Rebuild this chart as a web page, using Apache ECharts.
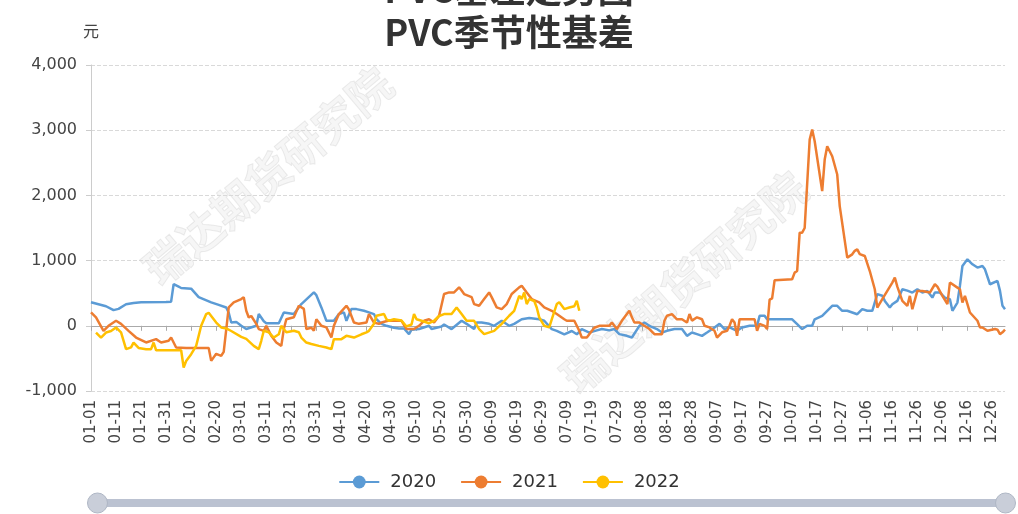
<!DOCTYPE html>
<html>
<head>
<meta charset="utf-8">
<script src="https://cdn.jsdelivr.net/npm/echarts@6/dist/echarts.min.js"></script>
<style>html,body{margin:0;padding:0;background:#fff}#c{width:1018px;height:514px}</style>
</head>
<body>
<div id="c"></div>
<script>
// Category labels: every day of a (leap) year, MM-DD
var categories = [];
(function(){
  var dim = [31,29,31,30,31,30,31,31,30,31,30,31];
  for (var m = 0; m < 12; m++) for (var d = 1; d <= dim[m]; d++)
    categories.push((m < 9 ? '0' : '') + (m + 1) + '-' + (d < 10 ? '0' : '') + d);
})();

var seriesNames = ['2020', '2021', '2022'];
var yTicks = { min: -1000, max: 4000, step: 1000 };

// [day index in year, basis value]
var s2020 = [[0,360],[3,330],[6,300],[9,240],[11,260],[14,330],[17,350],[20,360],[30,365],[32,370],[33,640],[35,600],[36,580],[40,570],[43,440],[48,360],[51,320],[54,280],[55,200],[56,50],[58,60],[60,0],[62,-50],
[66,0],[67,180],[69,70],[70,40],[75,40],[77,205],[81,180],[84,333],[89,512],[90,470],[92,282],[94,77],[97,77],[99,180],[101,205],[102,77],[104,256],[106,256],[109,230],[111,205],[113,180],[114,100],[116,30],[118,0],[121,-30],[123,-40],
[125,-40],[127,-128],[128,-60],[131,-50],[135,0],[136,-50],[140,-10],[141,20],[144,-50],[148,77],[150,30],[153,-50],[154,50],[156,50],[159,30],[161,0],[164,77],[167,0],[169,30],[172,100],[175,120],[179,100],[181,77],[184,-50],[186,-77],[189,-130],[192,-80],[194,-130],[196,-50],[199,-103],
[202,-70],[204,-50],[207,-70],[209,-50],[211,-128],[214,-154],[216,-180],[219,0],[221,50],[223,0],[226,-50],[228,-103],[230,-77],[233,-50],[236,-50],[238,-154],[240,-103],[242,-128],[244,-154],[246,-103],[249,-25],[251,30],[253,-50],[255,-25],[258,-77],[260,-25],[263,0],[266,0],[267,153],[269,153],[270,100],
[280,100],[282,25],[284,-50],[286,0],[288,0],[289,100],[292,153],[294,230],[296,306],[298,306],[300,230],[302,230],[304,204],[306,178],[308,255],[310,230],[312,230],[314,485],[316,460],[317,382],[319,280],[320,330],[322,382],[324,561],[326,540],[328,510],[330,561],[332,510],[334,535],[336,433],[337,510],[339,510],[341,433],[343,408],[344,230],[346,357],[347,612],[348,918],[350,1020],[352,943],[354,893],[356,918],[357,867],[359,637],[362,688],[363,535],[364,306],[365,255]];

var s2021 = [[0,205],[2,128],[5,-77],[7,0],[10,77],[12,30],[15,-77],[18,-180],[22,-256],[26,-205],[28,-256],[31,-230],[32,-180],[34,-333],[38,-340],[47,-340],[48,-538],[50,-430],[52,-460],[53,-400],[55,282],[57,360],[60,410],[61,440],
[62,230],[63,128],[64,150],[66,30],[67,-50],[69,-77],[70,0],[72,-154],[74,-257],[76,-308],[77,-50],[78,100],[81,130],[83,308],[85,260],[86,-50],[88,-30],[89,-77],[90,100],[92,0],[94,-25],[96,-180],[97,0],[99,180],[102,308],[103,250],[105,50],[107,30],[110,50],[111,180],[113,50],[115,30],[116,50],[119,80],[121,77],[124,77],
[126,-50],[129,-50],[131,0],[133,77],[135,100],[137,50],[139,154],[141,487],[143,512],[145,512],[147,590],[148,540],[149,487],[152,440],[153,333],[155,308],[157,410],[159,512],[160,440],[162,282],[164,256],[166,333],[168,487],[171,590],[172,615],[174,512],[176,410],[179,360],[181,282],[184,230],[186,180],[189,100],[190,77],[193,77],[194,0],[195,-77],[196,-180],[198,-180],
[199,-128],[201,-30],[203,0],[207,0],[208,50],[210,-50],[212,77],[214,180],[215,230],[216,130],[217,50],[219,50],[221,0],[223,-50],[225,-128],[228,-128],[229,77],[230,154],[232,180],[234,100],[236,100],[238,50],[239,180],[240,80],[242,130],[244,100],[245,0],[247,-25],[249,-77],[250,-180],[252,-100],[254,-77],[255,0],[256,100],[257,50],[258,-154],[259,100],[262,100],[265,100],[266,-77],[267,30],[269,0],[270,-50],
[271,400],[272,420],[273,700],[280,714],[281,816],[282,840],[283,1428],[284,1428],[285,1500],[287,2856],[288,3010],[289,2830],[292,2065],[293,2550],[294,2754],[296,2600],[298,2320],[299,1836],[302,1045],[304,1096],[305,1150],[306,1173],[307,1100],[309,1071],[311,840],[313,561],[314,280],[316,408],[318,535],[320,663],[321,740],[322,600],[324,382],[326,306],[327,459],[328,255],[330,535],[332,535],[335,510],[337,637],[338,600],[340,459],[342,331],[343,663],[346,586],[347,560],[348,357],[349,459],[350,331],[351,204],[354,77],[355,-25],[356,-25],[358,-77],[361,-50],[362,-60],[363,-128],[364,-100],[365,-60]];

var s2022 = [[2,-103],[4,-180],[6,-103],[8,-80],[10,-26],[12,-100],[14,-358],[16,-330],[17,-257],[19,-340],[22,-358],[24,-358],[25,-257],[26,-375],[36,-375],[37,-640],[38,-540],[40,-435],[42,-308],[44,0],[46,180],[47,200],[49,100],[50,50],[52,-25],[54,-40],[56,-80],[60,-170],
[62,-200],[65,-308],[67,-358],[68,-230],[69,-77],[71,-100],[73,-180],[75,-130],[76,0],[78,-100],[81,-77],[83,-100],[84,-180],[86,-257],[88,-280],[91,-308],[94,-333],[96,-358],[97,-205],[100,-205],[102,-154],[105,-180],[108,-130],[110,-100],[111,-77],[113,30],[114,154],[117,180],[118,100],[119,77],[121,100],
[124,80],[126,-10],[128,20],[129,180],[130,100],[132,77],[135,40],[137,77],[139,150],[141,180],[144,180],[146,282],[148,180],[150,77],[153,77],[155,-50],[157,-128],[161,-77],[164,30],[167,154],[169,230],[171,460],[172,410],[173,512],[174,333],[175,410],[177,380],[178,280],[179,130],[181,0],[183,-25],[184,100],[186,333],[187,360],[189,256],[191,280],[193,300],[194,385],[195,230]];

var colors = ['#5B9BD5', '#ED7D31', '#FFC000'];
var dataList = [s2020, s2021, s2022];

var chart = echarts.init(document.getElementById('c'), null, { renderer: 'canvas' });
var wmStyle = { text: '瑞达期货研究院', font: 'bold 44px "Noto Sans CJK SC"', fill: 'rgba(200,200,200,0.16)', stroke: 'rgba(170,170,170,0.22)', lineWidth: 1, textAlign: 'center', textVerticalAlign: 'middle' };
var titleStyle = { fontSize: 36, fontWeight: 'bold', color: '#333', fontFamily: '"Noto Sans CJK SC"' };
chart.setOption({
  animation: false,
  color: colors,
  title: [
    { text: 'PVC基差走势图', left: 'center', top: -34, textStyle: titleStyle },
    { text: 'PVC季节性基差', left: 'center', top: 9, textStyle: titleStyle }
  ],
  graphic: [
    { type: 'text', x: 268, y: 176, rotation: 40 * Math.PI / 180, silent: true, z: 0, style: wmStyle },
    { type: 'text', x: 684, y: 282, rotation: 41 * Math.PI / 180, silent: true, z: 0, style: wmStyle }
  ],
  legend: {
    data: seriesNames, top: 468, left: 'center', itemWidth: 40, itemHeight: 16, itemGap: 24,
    textStyle: { fontSize: 18, color: '#333', fontFamily: '"DejaVu Sans", sans-serif', padding: [0, 0, 0, 6] }
  },
  grid: { left: 91, right: 13, top: 65, bottom: 123 },
  xAxis: [
    { type: 'category', data: categories, boundaryGap: false,
      axisLine: { onZero: true, lineStyle: { color: '#aaa' } },
      axisTick: { show: true, interval: 9, length: 5, lineStyle: { color: '#aaa' } },
      axisLabel: { show: false }, splitLine: { show: false } },
    { type: 'category', data: categories, boundaryGap: false, position: 'bottom',
      axisLine: { show: false, onZero: false }, axisTick: { show: false }, splitLine: { show: false },
      axisLabel: { interval: 9, rotate: 90, fontSize: 15, color: '#444', margin: 9, fontFamily: '"DejaVu Sans", sans-serif' } }
  ],
  yAxis: {
    type: 'value', min: yTicks.min, max: yTicks.max, interval: yTicks.step,
    name: '元', nameGap: 26, nameTextStyle: { fontSize: 16, color: '#444', fontFamily: '"Noto Sans CJK SC"' },
    axisLine: { show: true, lineStyle: { color: '#ccc' } },
    axisTick: { show: true, length: 5, lineStyle: { color: '#ccc' } },
    axisLabel: { fontSize: 16, color: '#444', margin: 14, fontFamily: '"DejaVu Sans", sans-serif' },
    splitLine: { lineStyle: { type: 'dashed', color: '#d9d9d9' } }
  },
  dataZoom: [{
    type: 'slider', xAxisIndex: [0, 1], start: 0, end: 100,
    left: 95, right: 13, bottom: 7, height: 8,
    showDetail: false, showDataShadow: false, brushSelect: false, moveHandleSize: 0,
    borderColor: 'transparent', backgroundColor: 'rgba(200,206,216,0.5)',
    fillerColor: 'rgba(180,188,204,0.85)',
    handleIcon: 'circle', handleSize: 20,
    handleStyle: { color: '#c9ced9', borderColor: '#aeb6c4', borderWidth: 1 }
  }],
  series: seriesNames.map(function (n, i) {
    return { name: n, type: 'line', data: dataList[i], symbol: 'circle', symbolSize: 8, showSymbol: false,
      lineStyle: { width: 2.5 }, xAxisIndex: 0 };
  })
});
</script>
</body>
</html>
